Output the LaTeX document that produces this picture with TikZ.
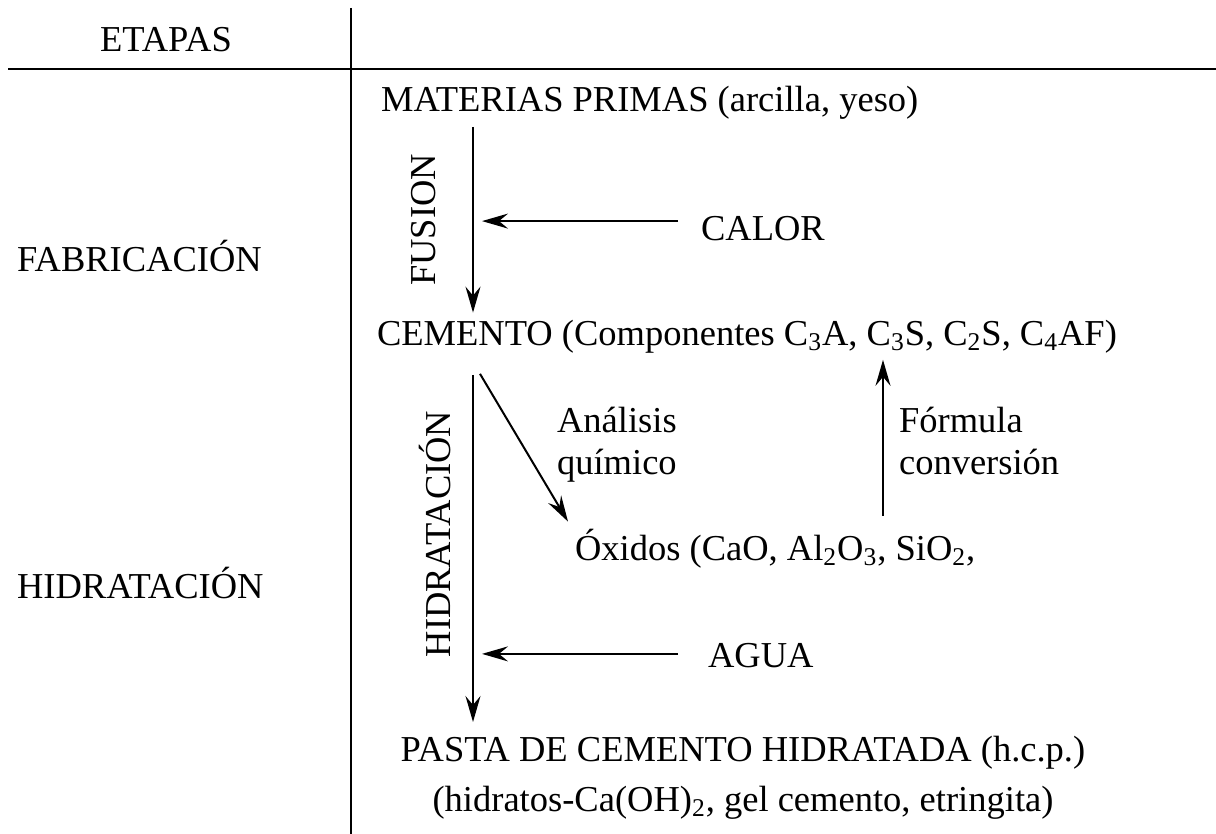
\documentclass[tikz,border=0pt]{standalone}
\usepackage{fontspec}
\setmainfont{Liberation Serif}
\usetikzlibrary{arrows.meta}

\begin{document}
\begin{tikzpicture}[x=0.5pt, y=-0.5pt,
    every node/.style={font=\fontsize{18.25pt}{21pt}\selectfont},
    flecha/.style={-{Stealth[length=13pt, width=7.5pt, inset=4.5pt]}, line width=1pt},
    regla/.style={line width=1pt}]
  \useasboundingbox (0,0) rectangle (1216,834);
  % Tabla de etapas
  \draw[regla] (351,8) -- (351,834);
  \draw[regla, line width=1.3pt] (8,69) -- (1216,69);
  \node[anchor=base] (etapas) at (166,52) {ETAPAS};
  \node[anchor=base west] (fab) at (10,272) {FABRICACIÓN};
  \node[anchor=base west] (hid) at (10,598) {HIDRATACIÓN};
  % Proceso
  \coordinate (eje) at (473,0);
  \coordinate (conv) at (883,0);
  \node[anchor=base west] (materias) at (374,112) {MATERIAS PRIMAS (arcilla, yeso)};
  \node[anchor=base west] (cemento) at (370,345)
    {CEMENTO (Componentes C\textsubscript{3}A, C\textsubscript{3}S, C\textsubscript{2}S, C\textsubscript{4}AF)};
  \node[anchor=base west] (oxidos) at (568,560)
    {Óxidos (CaO, Al\textsubscript{2}O\textsubscript{3}, SiO\textsubscript{2},};
  \node[anchor=north, align=center, font=\fontsize{18.25pt}{25pt}\selectfont] (pasta) at (743,729)
    {PASTA DE CEMENTO HIDRATADA (h.c.p.)\\(hidratos-Ca(OH)\textsubscript{2}, gel cemento, etringita)};
  \node[anchor=base west] (calor) at (694,241) {CALOR};
  \node[anchor=base west] (agua) at (701,667) {AGUA};
  \node[rotate=90, anchor=base] (fusion) at (435,220) {FUSION};
  \node[rotate=90, anchor=base] (hidrat) at (450,534) {HIDRATACIÓN};
  \node[anchor=north west, align=left] (analisis) at (550,400) {Análisis\\químico};
  \node[anchor=north west, align=left] (formula) at (892,400) {Fórmula\\conversión};
  % Flechas
  \draw[flecha] (materias.south -| eje) -- (cemento.north -| eje);
  \draw[flecha, shorten <=7.5pt, shorten >=3.5pt] (cemento.south -| eje) -- (pasta.north -| eje);
  \draw[flecha, shorten <=8pt, shorten >=4.5pt] ([yshift=4pt]calor.west) -- ([yshift=4pt]calor.west -| eje);
  \draw[flecha, shorten <=11.5pt, shorten >=4.5pt] ([yshift=0.6pt]agua.west) -- ([yshift=0.6pt]agua.west -| eje);
  \draw[flecha] ([shift={(110,14)}]cemento.south west) -- (oxidos.north west);
  \draw[flecha, shorten <=3pt] (oxidos.north -| conv) -- (cemento.south -| conv);
\end{tikzpicture}
\end{document}
